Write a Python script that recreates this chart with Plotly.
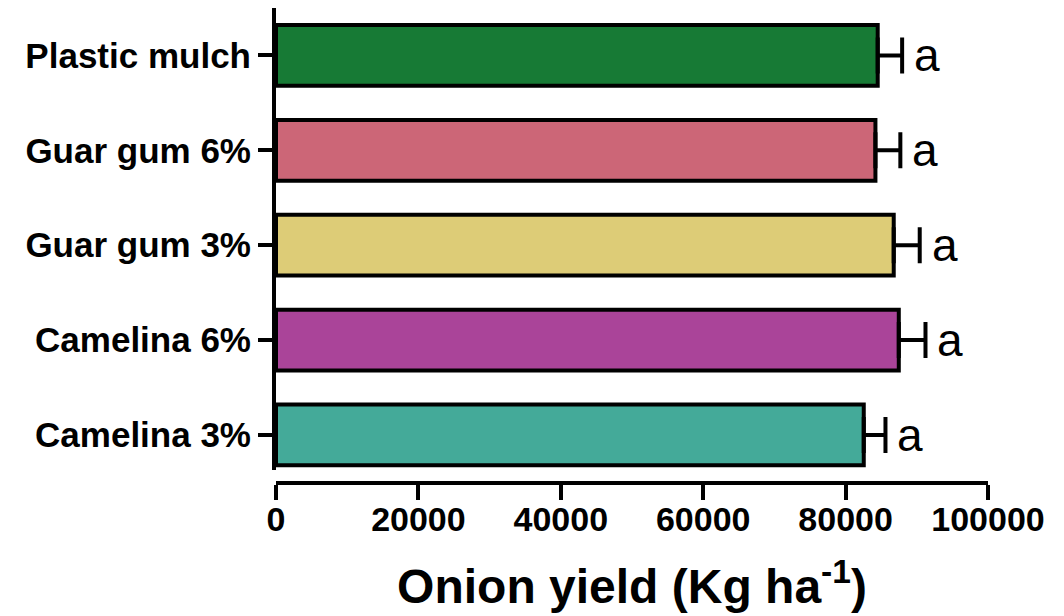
import plotly.graph_objects as go

categories = ["Camelina 3%", "Camelina 6%", "Guar gum 3%", "Guar gum 6%", "Plastic mulch"]
yield_mean = [82550, 87470, 86760, 84190, 84510]
yield_sd = [3050, 3750, 3650, 3500, 3430]
letters = ["a", "a", "a", "a", "a"]
colors = ["#44aa99", "#aa4499", "#ddcc77", "#cc6677", "#177a35"]
x_ticks = [0, 20000, 40000, 60000, 80000, 100000]
x_ticktext = ["0", "20000", "40000", "60000", "80000", "100000"]

FONT = "Liberation Sans, Arial, Helvetica, sans-serif"

fig = go.Figure()
fig.add_trace(go.Bar(
    x=yield_mean,
    y=categories,
    orientation="h",
    width=0.64,
    marker=dict(color=colors, line=dict(color="black", width=4)),
    error_x=dict(type="data", symmetric=False, array=yield_sd,
                 arrayminus=[0] * len(yield_sd),
                 color="black", thickness=4, width=18),
    showlegend=False,
))

for cat, m, s, t in zip(categories, yield_mean, yield_sd, letters):
    fig.add_annotation(x=m + s, y=cat, text=t, showarrow=False,
                       xanchor="left", yanchor="middle", xshift=10, yshift=0,
                       font=dict(family=FONT, size=46, color="black"))

fig.update_layout(
    width=1064, height=616,
    margin=dict(l=268, r=84, t=0, b=141),
    plot_bgcolor="white", paper_bgcolor="white",
    xaxis=dict(
        range=[0, 100000], tickvals=x_ticks, ticktext=x_ticktext,
        showgrid=False, zeroline=False,
        showline=True, linecolor="black", linewidth=4,
        ticks="outside", ticklen=15, tickwidth=4, tickcolor="black",
        tickfont=dict(family=FONT, size=34, color="black", weight="bold"),
        ticklabelstandoff=-10,
        anchor="free", position=0,
        title=dict(text="Onion yield (Kg ha<sup>-1</sup>)", standoff=32,
                   font=dict(family=FONT, size=48, color="black", weight="bold")),
    ),
    yaxis=dict(
        domain=[0.0274, 1], range=[-0.37, 4.5],
        showgrid=False, zeroline=False,
        showline=True, linecolor="black", linewidth=4,
        ticks="outside", ticklen=14, tickwidth=4, tickcolor="black",
        tickfont=dict(family=FONT, size=35, color="black", weight="bold"),
        categoryorder="array", categoryarray=categories,
    ),
)

fig.write_html("out.html")
